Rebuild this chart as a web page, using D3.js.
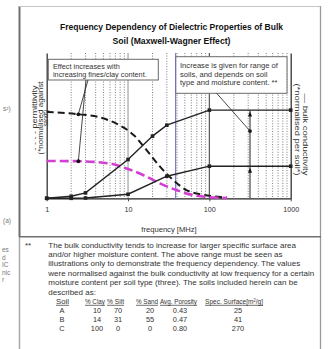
<!DOCTYPE html>
<html><head><meta charset="utf-8">
<script src="https://cdn.jsdelivr.net/npm/d3@7"></script>
<style>
body{margin:0;background:#fff}
svg{display:block}
text{font-family:"Liberation Sans",Arial,sans-serif}
</style>
</head><body>
<svg id="c" width="332" height="349"></svg>
<script>
// ---------- data ----------
const titleLines = ["Frequency Dependency of Dielectric Properties of Bulk", "Soil (Maxwell-Wagner Effect)"];
const xTicks = [1, 10, 100, 1000];
const xLabel = "frequency [MHz]";
const leftLabel = ["- - - - permittivity", "(*normalised against", "sand*)"];
const rightLabel = ["\u2014 bulk conductivity", "(*normalised per soil*)"];

// bulk conductivity (solid lines)
const condFreqA = [1, 2, 3, 10, 20, 30, 100, 1000];
const condValsA = [0, 0.014, 0.037, 0.267, 0.428, 0.503, 0.607, 0.607];
const condFreqB = [1, 2, 3, 10, 30, 100, 1000];
const condValsB = [0, 0, 0.002, 0.028, 0.152, 0.221, 0.221];

// permittivity (dashed lines)
const permFreqClay = [1, 2.5, 4.5, 7, 12, 17, 25, 36, 53, 94, 165];
const permValsClay = [0.595, 0.578, 0.557, 0.517, 0.43, 0.33, 0.215, 0.125, 0.055, 0.02, 0.005];
const permFreqSand = [1, 2.5, 6, 9.6, 15.5, 25, 40, 64, 94, 165];
const permValsSand = [0.257, 0.255, 0.239, 0.205, 0.159, 0.101, 0.055, 0.021, 0.009, 0.002];

const markerFreq = 38.5;          // blue reference line
const rangeFreq = 316;            // vertical range arrows
const annot1Freq = 2.45, annot1Vals = [0.578, 0.255];
const annot2Val = 0.463;

const box1Lines = ["Effect increases with", "increasing fines/clay content."];
const box2Lines = ["Increase is given for range of", "soils, and depends on soil", "type and moisture content. **"];

const noteLines = [
  "The bulk conductivity tends to increase for larger specific surface area",
  "and/or higher moisture content. The above range must be seen as",
  "illustrations only to demonstrate the frequency dependency. The values",
  "were normalised against the bulk conductivity at low frequency for a certain",
  "moisture content per soil type (three). The soils included herein can be",
  "described as:"
];
const tableHeader = ["Soil", "% Clay", "% Silt", "% Sand", "Avg. Porosity", "Spec. Surface[m\u00b2/g]"];
const soilNames = ["A", "B", "C"];
const soilClay = [10, 14, 100];
const soilSilt = [70, 31, 0];
const soilSand = [20, 55, 0];
const soilPorosity = ["0.43", "0.47", "0.80"];
const soilSurface = [25, 41, 270];
const sideFragments = ["es", "d", "IC", "nic", "r"];

// ---------- drawing ----------
const svg = d3.select("#c");
const x = d3.scaleLog().domain([1, 1000]).range([46.7, 290.7]);
const y = d3.scaleLinear().domain([0, 1]).range([198.3, 53]);

// page frame
const frame = svg.append("g");
frame.append("line").attr("x1", 19.5).attr("y1", 6).attr("x2", 19.5).attr("y2", 237).attr("stroke", "#6f6f6f").attr("stroke-width", 2);
frame.append("line").attr("x1", 19.5).attr("y1", 237).attr("x2", 19.5).attr("y2", 349).attr("stroke", "#a8a8a8").attr("stroke-width", 1.5);
frame.append("line").attr("x1", 19).attr("y1", 6.5).attr("x2", 321).attr("y2", 6.5).attr("stroke", "#c4c4c4").attr("stroke-width", 1);
frame.append("line").attr("x1", 320.5).attr("y1", 6).attr("x2", 320.5).attr("y2", 349).attr("stroke", "#9a9a9a").attr("stroke-width", 1.3);
frame.append("line").attr("x1", 19).attr("y1", 236.8).attr("x2", 321).attr("y2", 236.8).attr("stroke", "#707070").attr("stroke-width", 1.5);

// side fragments from neighbouring column
const frag = svg.append("g").attr("fill", "#777").style("font-size", "6.5px");
frag.append("text").attr("x", 3).attr("y", 111).text("s\u00b2)");
frag.append("text").attr("x", 3).attr("y", 223).text("(a)");
sideFragments.forEach((t, i) => frag.append("text").attr("x", 2).attr("y", 252 + i * 7.5).text(t));

// title
const tg = svg.append("g").attr("fill", "#111").style("font-weight", "bold").style("font-size", "9.6px");
const titleWidths = [223, 118];
titleLines.forEach((t, i) => {
  tg.append("text").attr("x", 171.5).attr("y", 29.5 + i * 14).attr("text-anchor", "middle")
    .attr("textLength", titleWidths[i]).attr("lengthAdjust", "spacingAndGlyphs").text(t);
});

// grid
const isDecade = d => Math.abs(Math.log10(d) - Math.round(Math.log10(d))) < 1e-9;
const grid = svg.append("g");
grid.selectAll("line.minor").data(x.ticks().filter(d => !isDecade(d))).join("line")
  .attr("x1", d => x(d)).attr("x2", d => x(d)).attr("y1", y(1)).attr("y2", y(0))
  .attr("stroke", "#707070").attr("stroke-width", 0.9).attr("stroke-dasharray", "1,1.6");
grid.append("line").attr("x1", x(10)).attr("x2", x(10)).attr("y1", y(1)).attr("y2", y(0)).attr("stroke", "#9a9a9a").attr("stroke-width", 1.1);
grid.append("line").attr("x1", x(100)).attr("x2", x(100)).attr("y1", y(1)).attr("y2", y(0)).attr("stroke", "#555").attr("stroke-width", 1.2);

// axes
const ax = svg.append("g").attr("transform", `translate(0,${y(0)})`)
  .call(d3.axisBottom(x).tickValues(xTicks).tickFormat(d3.format("d")).tickSize(3).tickSizeOuter(0).tickPadding(6));
ax.select(".domain").attr("stroke", "#222").attr("stroke-width", 1.3);
ax.selectAll(".tick line").attr("stroke", "#444");
ax.selectAll(".tick text").attr("fill", "#333").style("font-size", "7.2px").style("font-family", "Liberation Sans, Arial, sans-serif");
const al = svg.append("g").attr("transform", `translate(${x(1)},0)`).call(d3.axisLeft(y).tickValues([]).tickSizeOuter(0));
al.select(".domain").attr("stroke", "#333").attr("stroke-width", 1.3);
const ar = svg.append("g").attr("transform", `translate(${x(1000)},0)`).call(d3.axisRight(y).tickValues([]).tickSizeOuter(0));
ar.select(".domain").attr("stroke", "#333").attr("stroke-width", 1.3);

// blue reference line
svg.append("line").attr("x1", x(markerFreq)).attr("x2", x(markerFreq)).attr("y1", y(1)).attr("y2", y(0) + 1)
  .attr("stroke", "#6f6fc8").attr("stroke-width", 1.1);

// boxes
const b1 = svg.append("g");
b1.append("rect").attr("x", 48.3).attr("y", 59.3).attr("width", 110).attr("height", 20.7).attr("fill", "#fff").attr("stroke", "#6a6a6a").attr("stroke-width", 1);
box1Lines.forEach((t, i) => b1.append("text").attr("x", 53).attr("y", 68.6 + i * 8.2).attr("fill", "#333").style("font-size", "7.3px").text(t));
const b2 = svg.append("g");
b2.append("rect").attr("x", x(markerFreq)).attr("y", 56.7).attr("width", 287 - x(markerFreq)).attr("height", 36.6).attr("fill", "#fff").attr("stroke", "#6a6a6a").attr("stroke-width", 1);
b2.append("line").attr("x1", x(markerFreq)).attr("x2", x(markerFreq)).attr("y1", 56.7).attr("y2", 93.3).attr("stroke", "#6f6fc8").attr("stroke-width", 1.1);
box2Lines.forEach((t, i) => b2.append("text").attr("x", 180).attr("y", 68 + i * 8.6).attr("fill", "#333").style("font-size", "7.6px").text(t));

// curves
const lineGen = (fs, vs, curve) => d3.line().x((d, i) => x(fs[i])).y(d => y(d)).curve(curve)(vs);
svg.append("path").attr("d", lineGen(permFreqClay, permValsClay, d3.curveMonotoneX))
  .attr("fill", "none").attr("stroke", "#1a1a1a").attr("stroke-width", 2).attr("stroke-dasharray", "7,4");
svg.append("path").attr("d", lineGen(permFreqSand, permValsSand, d3.curveMonotoneX))
  .attr("fill", "none").attr("stroke", "#d23fd2").attr("stroke-width", 2.6).attr("stroke-dasharray", "9,4");
[[condFreqA, condValsA], [condFreqB, condValsB]].forEach(([fs, vs]) => {
  svg.append("path").attr("d", lineGen(fs, vs, d3.curveLinear))
    .attr("fill", "none").attr("stroke", "#222").attr("stroke-width", 1.4);
  svg.append("g").selectAll("rect").data(vs).join("rect")
    .attr("x", (d, i) => x(fs[i]) - 1.8).attr("y", d => y(d) - 1.8).attr("width", 3.6).attr("height", 3.6)
    .attr("fill", "#222");
});

// annotations
const an = svg.append("g").attr("stroke", "#333").attr("stroke-width", 0.9);
const starts1 = [[88, 80], [86, 80]];
annot1Vals.forEach((v, i) => {
  an.append("line").attr("x1", starts1[i][0]).attr("y1", starts1[i][1]).attr("x2", x(annot1Freq)).attr("y2", y(v));
  svg.append("circle").attr("cx", x(annot1Freq)).attr("cy", y(v)).attr("r", 1.9).attr("fill", "#111");
});
an.append("line").attr("x1", 216.7).attr("y1", 93.3).attr("x2", x(rangeFreq)).attr("y2", y(annot2Val));
svg.append("circle").attr("cx", x(rangeFreq)).attr("cy", y(annot2Val)).attr("r", 1.9).attr("fill", "#111");
svg.append("line").attr("x1", x(rangeFreq)).attr("x2", x(rangeFreq)).attr("y1", y(condValsA[condValsA.length - 1])).attr("y2", y(0))
  .attr("stroke", "#222").attr("stroke-width", 1);
[condValsA[condValsA.length - 1], condValsB[condValsB.length - 1]].forEach(v => {
  const cx = x(rangeFreq), ty = y(v) + 1.5;
  svg.append("path").attr("d", `M${cx},${ty} L${cx - 2},${ty + 5} L${cx + 2},${ty + 5} Z`).attr("fill", "#111");
});

// axis titles
svg.append("text").attr("x", 169).attr("y", 231.5).attr("text-anchor", "middle").attr("fill", "#333")
  .style("font-size", "7.6px").text(xLabel);
const leftW = [65, 73, 16], leftX = [36.5, 42.6, 48.4];
leftLabel.forEach((t, i) => {
  svg.append("text").attr("transform", `translate(${leftX[i]},118) rotate(-90)`).attr("text-anchor", "middle")
    .attr("fill", "#333").style("font-size", "7.4px")
    .attr("textLength", leftW[i]).attr("lengthAdjust", "spacingAndGlyphs").text(t);
});
const rightW = [82, 92], rightX = [303.4, 295.4];
rightLabel.forEach((t, i) => {
  svg.append("text").attr("transform", `translate(${rightX[i]},175.5) rotate(90)`).attr("text-anchor", "end")
    .attr("fill", "#333").style("font-size", "7.8px")
    .attr("textLength", rightW[i]).attr("lengthAdjust", "spacingAndGlyphs").text(t);
});

// note block
const nb = svg.append("g").attr("fill", "#333").style("font-size", "8px");
nb.append("text").attr("x", 25).attr("y", 248).text("**");
noteLines.forEach((t, i) => nb.append("text").attr("x", 48.3).attr("y", 247.5 + i * 9.4).text(t));
const hdrX = [56, 85, 107, 136, 160, 205];
const hdrW = [13, 20, 17, 22, 37, 58];
const hdrY = 304;
const tb = svg.append("g").attr("fill", "#333").style("font-size", "7.4px");
tableHeader.forEach((t, i) => {
  tb.append("text").attr("x", hdrX[i]).attr("y", hdrY).attr("textLength", hdrW[i]).attr("lengthAdjust", "spacingAndGlyphs").text(t);
  tb.append("line").attr("x1", hdrX[i]).attr("x2", hdrX[i] + hdrW[i]).attr("y1", hdrY + 1.3).attr("y2", hdrY + 1.3)
    .attr("stroke", "#333").attr("stroke-width", 0.7);
});
const colC = [62, 97, 118, 150, 180, 238];
const cols = [soilNames, soilClay, soilSilt, soilSand, soilPorosity, soilSurface];
soilNames.forEach((s, r) => {
  cols.forEach((c, j) => tb.append("text").attr("x", colC[j]).attr("y", 313 + r * 9.2).attr("text-anchor", "middle").text(c[r]));
});
</script>
</body></html>
